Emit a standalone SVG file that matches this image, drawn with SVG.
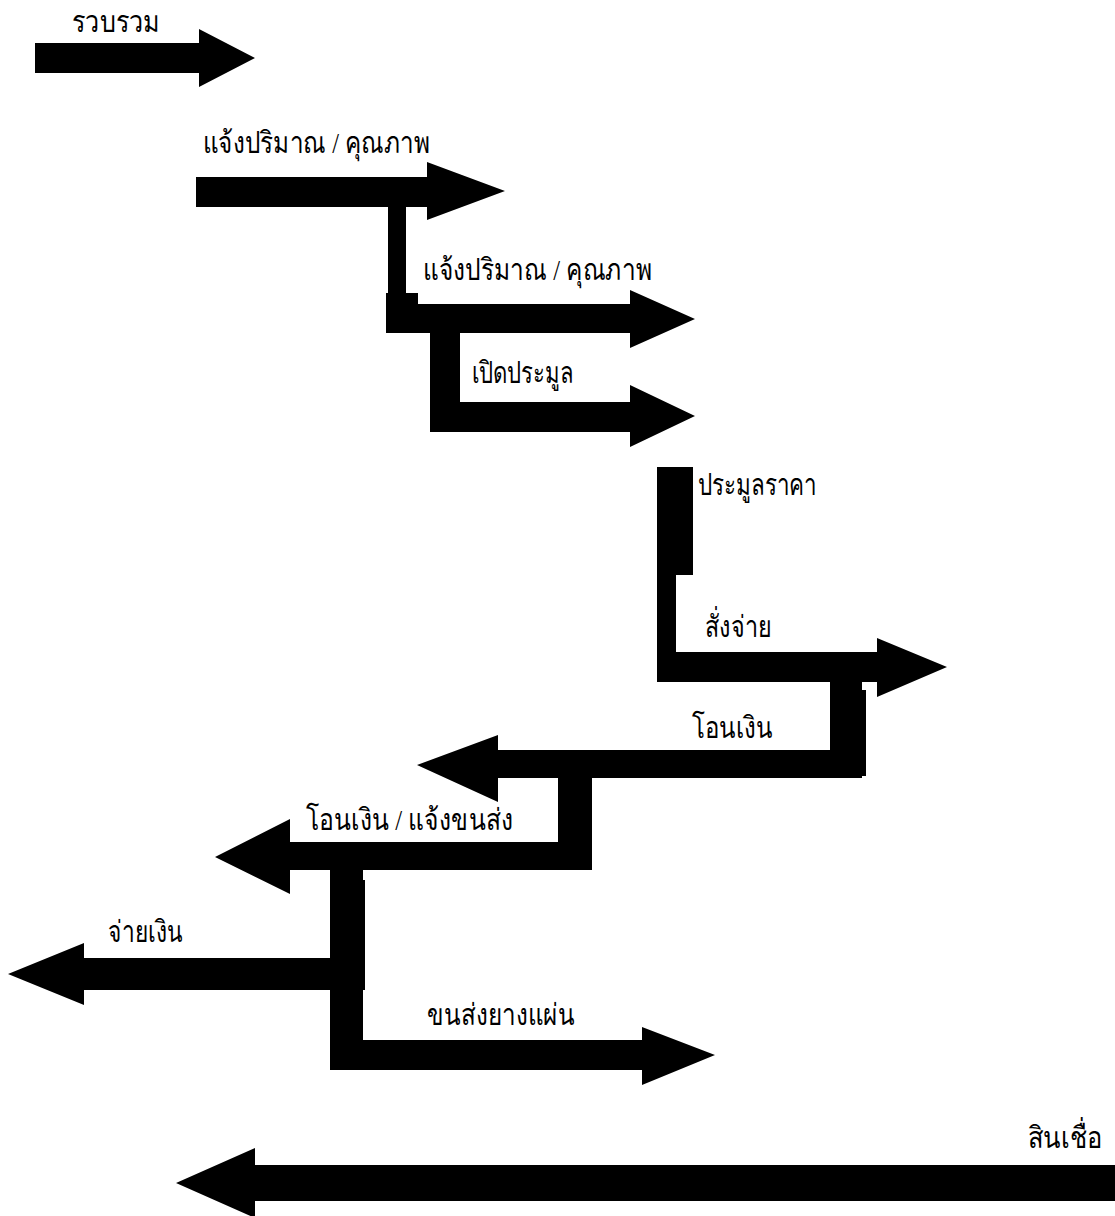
<svg xmlns="http://www.w3.org/2000/svg" width="1115" height="1216" viewBox="0 0 1115 1216">
<style>
.a{fill:#000;stroke:none}
.c{fill:#000;stroke:none}
.t{font-family:"Liberation Serif","DejaVu Serif",serif;font-size:30px;fill:#000}
</style>
<rect width="1115" height="1216" fill="#fff"/>
<g id="connectors">
<rect class="c" x="388" y="205" width="18" height="100"/>
<rect class="c" x="386" y="293" width="32" height="12"/>
<rect class="c" x="430" y="331" width="30" height="101"/>
<rect class="c" x="657" y="467" width="36" height="108"/>
<rect class="c" x="657" y="573" width="19" height="109"/>
<rect class="c" x="830" y="680" width="32" height="98"/>
<rect class="c" x="862" y="690" width="4" height="86"/>
<rect class="c" x="558" y="776" width="34" height="94"/>
<rect class="c" x="330" y="868" width="33" height="202"/>
<rect class="c" x="363" y="880" width="2" height="110"/>
</g>
<g id="n1">
<polygon class="a" points="35,43 199,43 199,29 255,58 199,87 199,73 35,73"/>
<text class="t" x="72" y="32" textLength="88" lengthAdjust="spacingAndGlyphs">รวบรวม</text>
</g>
<g id="n2">
<polygon class="a" points="196,177 427,177 427,162 505,191 427,220 427,207 196,207"/>
<text class="t" x="203" y="153" textLength="227" lengthAdjust="spacingAndGlyphs">แจ้งปริมาณ / คุณภาพ</text>
</g>
<g id="n3">
<polygon class="a" points="386,304 630,304 630,290 695,319 630,348 630,333 386,333"/>
<text class="t" x="423" y="280" textLength="229" lengthAdjust="spacingAndGlyphs">แจ้งปริมาณ / คุณภาพ</text>
</g>
<g id="n4">
<polygon class="a" points="430,402 630,402 630,385 695,416 630,447 630,432 430,432"/>
<text class="t" x="472" y="383" textLength="101" lengthAdjust="spacingAndGlyphs">เปิดประมูล</text>
</g>
<g id="n5">
<text class="t" x="698" y="495" textLength="119" lengthAdjust="spacingAndGlyphs">ประมูลราคา</text>
</g>
<g id="n6">
<polygon class="a" points="675,652 877,652 877,638 947,667 877,697 877,682 675,682"/>
<text class="t" x="705" y="637" textLength="67" lengthAdjust="spacingAndGlyphs">สั่งจ่าย</text>
</g>
<g id="n7">
<polygon class="a" points="862,750 498,750 498,735 417,765 498,802 498,778 862,778"/>
<text class="t" x="692" y="738" textLength="81" lengthAdjust="spacingAndGlyphs">โอนเงิน</text>
</g>
<g id="n8">
<polygon class="a" points="590,842 290,842 290,819 215,857 290,894 290,870 590,870"/>
<text class="t" x="306" y="830" textLength="207" lengthAdjust="spacingAndGlyphs">โอนเงิน / แจ้งขนส่ง</text>
</g>
<g id="n9">
<polygon class="a" points="330,958 84,958 84,943 8,974 84,1005 84,990 330,990"/>
<text class="t" x="108" y="942" textLength="75" lengthAdjust="spacingAndGlyphs">จ่ายเงิน</text>
</g>
<g id="n10">
<polygon class="a" points="332,1040 642,1040 642,1027 715,1055 642,1085 642,1070 332,1070"/>
<text class="t" x="427" y="1025" textLength="148" lengthAdjust="spacingAndGlyphs">ขนส่งยางแผ่น</text>
</g>
<g id="n11">
<polygon class="a" points="1115,1165 255,1165 255,1148 176,1183 255,1218 255,1201 1115,1201"/>
<text class="t" x="1028" y="1148" textLength="74" lengthAdjust="spacingAndGlyphs">สินเชื่อ</text>
</g>
</svg>
